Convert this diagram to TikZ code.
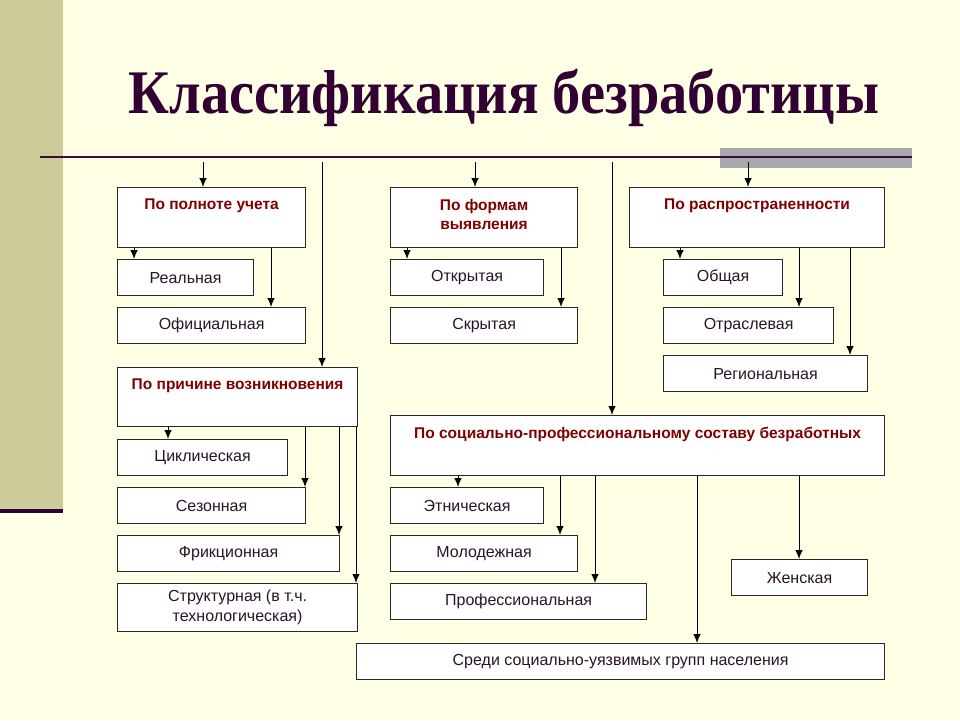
\documentclass[tikz,border=0pt]{standalone}
\usepackage{fontspec}
\setmainfont{Liberation Sans}
\newfontfamily\titlefont{Liberation Serif}
\usetikzlibrary{arrows.meta}

\definecolor{bgcream}{RGB}{255,255,229}
\definecolor{stripclr}{RGB}{204,204,155}
\definecolor{titleclr}{RGB}{51,0,51}
\definecolor{ruleclr}{RGB}{60,10,60}
\definecolor{bandclr}{RGB}{168,168,172}
\definecolor{hdrred}{RGB}{128,0,0}
\definecolor{boxline}{RGB}{40,40,40}
\definecolor{subtext}{RGB}{40,20,40}

\begin{document}
\begin{tikzpicture}[x=1pt, y=-1pt,
	line/.style={>={Latex[length=9pt,width=7.5pt]}, ->, black, line width=1pt},
	box/.style={draw=boxline, line width=1.2pt, fill=white, anchor=north west, inner sep=0pt,
		text=subtext, font=\fontsize{16}{20}\selectfont, align=center, minimum height=36},
	hdr/.style={box, minimum height=60},
	hdrtext/.style={anchor=north, yshift=-10pt, inner sep=2pt, text=hdrred,
		font=\fontsize{15.5}{19}\selectfont\bfseries, align=center}]

	\useasboundingbox (0,0) rectangle (960,720);
	\fill[bgcream] (0,0) rectangle (960,720);
	\fill[stripclr] (0,0) rectangle (63,510);
	\fill[titleclr] (0,509) rectangle (63,513);
	\fill[bandclr] (720,148) rectangle (912,168);
	\draw[ruleclr, line width=2.5pt] (40,157) -- (912,157);

	\node[font={\titlefont\fontsize{62}{70}\selectfont\bfseries}, text=titleclr, anchor=base,
		inner sep=0pt, xscale=0.91] (title) at (504,113) {Классификация безработицы};

	\coordinate (tA) at (203,162);
	\coordinate (tB) at (322,162);
	\coordinate (tC) at (475,162);
	\coordinate (tD) at (612,162);
	\coordinate (tE) at (748,162);

	% groups
	\node[hdr, minimum width=188, label={[hdrtext]north:По полноте учета}] (polnota) at (117,187) {};
	\node[hdr, minimum width=187, label={[hdrtext]north:{По формам\\выявления}}] (formy) at (390,187) {};
	\node[hdr, minimum width=255, label={[hdrtext]north:По распространенности}] (rasp) at (629,187) {};
	\node[hdr, minimum width=240, minimum height=59, label={[hdrtext]north:По причине возникновения}] (prichina) at (117,367) {};
	\node[hdr, minimum width=494, label={[hdrtext]north:По социально-профессиональному составу безработных}] (sostav) at (390,415) {};

	\node[box, minimum width=136] (real) at (117,259) {Реальная};
	\node[box, minimum width=188] (ofic) at (117,307) {Официальная};
	\node[box, minimum width=153] (otkr) at (390,259) {Открытая};
	\node[box, minimum width=187] (skryt) at (390,307) {Скрытая};
	\node[box, minimum width=119] (obsh) at (663,259) {Общая};
	\node[box, minimum width=170] (otrasl) at (663,307) {Отраслевая};
	\node[box, minimum width=204] (region) at (663,355) {Региональная};
	\node[box, minimum width=170] (cikl) at (117,439) {Циклическая};
	\node[box, minimum width=188] (sezon) at (117,487) {Сезонная};
	\node[box, minimum width=222] (frikc) at (117,535) {Фрикционная};
	\node[box, minimum width=240, minimum height=48] (strukt) at (117,583) {Структурная (в т.ч.\\технологическая)};
	\node[box, minimum width=153] (etnich) at (390,487) {Этническая};
	\node[box, minimum width=187] (molod) at (390,535) {Молодежная};
	\node[box, minimum width=256] (prof) at (390,583) {Профессиональная};
	\node[box, minimum width=136] (zhen) at (731,559) {Женская};
	\node[box, minimum width=528] (sredi) at (356,643) {Среди социально-уязвимых групп населения};

	\draw[line] (tA) -- (tA |- polnota.north);
	\draw[line] (tB) -- (tB |- prichina.north);
	\draw[line] (tC) -- (tC |- formy.north);
	\draw[line] (tD) -- (tD |- sostav.north);
	\draw[line] (tE) -- (tE |- rasp.north);

	\draw[line] (134,0 |- polnota.south) -- (134,0 |- real.north);
	\draw[line] (271,0 |- polnota.south) -- (271,0 |- ofic.north);
	\draw[line] (407,0 |- formy.south) -- (407,0 |- otkr.north);
	\draw[line] (561,0 |- formy.south) -- (561,0 |- skryt.north);
	\draw[line] (680,0 |- rasp.south) -- (680,0 |- obsh.north);
	\draw[line] (799,0 |- rasp.south) -- (799,0 |- otrasl.north);
	\draw[line] (850,0 |- rasp.south) -- (850,0 |- region.north);

	\draw[line] (168,0 |- prichina.south) -- (168,0 |- cikl.north);
	\draw[line] (305,0 |- prichina.south) -- (305,0 |- sezon.north);
	\draw[line] (339,0 |- prichina.south) -- (339,0 |- frikc.north);
	\draw[line] (356,0 |- prichina.south) -- (356,0 |- strukt.north);

	\draw[line] (458,0 |- sostav.south) -- (458,0 |- etnich.north);
	\draw[line] (560,0 |- sostav.south) -- (560,0 |- molod.north);
	\draw[line] (595,0 |- sostav.south) -- (595,0 |- prof.north);
	\draw[line] (697,0 |- sostav.south) -- (697,0 |- sredi.north);
	\draw[line] (799,0 |- sostav.south) -- (799,0 |- zhen.north);

\end{tikzpicture}
\end{document}
